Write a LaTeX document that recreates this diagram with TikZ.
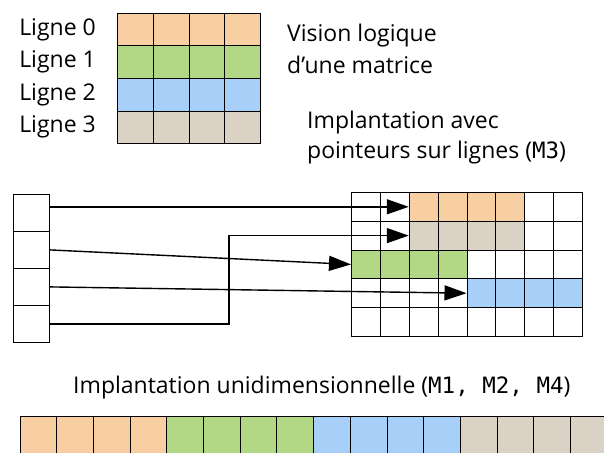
\documentclass[tikz,border=0pt]{standalone}
\usepackage{fontspec}
\setmainfont{Open Sans}
\setmonofont{DejaVu Sans Mono}
\usetikzlibrary{arrows.meta,positioning}

\definecolor{rowA}{HTML}{F8CFA3}
\definecolor{rowB}{HTML}{B2D886}
\definecolor{rowC}{HTML}{A7CFF7}
\definecolor{rowD}{HTML}{DBD2C6}

\begin{document}
\begin{tikzpicture}[
  x=1pt, y=-1pt,
  node distance=21pt,
  txt/.style={inner sep=0pt, align=left, font=\fontsize{23}{32}\selectfont},
  cell/.style={draw, line width=0.8pt, inner sep=0pt, anchor=north west},
  big/.style={cell, minimum width=35.75pt, minimum height=32.5pt},
  ptr/.style={cell, minimum width=36pt, minimum height=37pt},
  small/.style={cell, minimum width=28.875pt, minimum height=28.8pt},
  flat/.style={cell, minimum width=36.7pt, minimum height=37pt},
  link/.style={-{Triangle[length=22pt, width=15pt]}, line width=1.4pt}
]
\useasboundingbox (0,0) rectangle (604,452);
\clip (0,0) rectangle (604,452);

% logical view
\foreach \r/\col in {0/rowA, 1/rowB, 2/rowC, 3/rowD} {
  \foreach \c in {0,...,3}
    \node[big, fill=\col] (m-\r-\c) at (117+35.75*\c, 13+32.5*\r) {};
  \node[txt, left=of m-\r-0] (lbl-\r) {Ligne \r};
}
\node[txt, anchor=west] (logical) at (287,49) {Vision logique\\d’une matrice};
\node[txt, anchor=west, font=\fontsize{23}{30}\selectfont] (rowptr) at (307,138)
  {Implantation avec\\pointeurs sur lignes ({\fontsize{22.5}{30}\ttfamily M3})};

% pointer array
\foreach \i in {0,...,3}
  \node[ptr] (p-\i) at (13, 194+37*\i) {};

% memory grid
\foreach \r in {0,...,4}
  \foreach \c in {0,...,7}
    \node[small] (g-\r-\c) at (351+28.875*\c, 192+28.8*\r) {};
\foreach \c in {2,...,5} \node[small, fill=rowA] at (g-0-\c.north west) {};
\foreach \c in {2,...,5} \node[small, fill=rowD] at (g-1-\c.north west) {};
\foreach \c in {0,...,3} \node[small, fill=rowB] at (g-2-\c.north west) {};
\foreach \c in {4,...,7} \node[small, fill=rowC] at (g-3-\c.north west) {};

\coordinate (bend) at (229,0);
\draw[link] (p-0.east |- g-0-2.west) -- (g-0-2.west);
\draw[link] (p-1.east) -- (g-2-0.west);
\draw[link] (p-2.east) -- (g-3-4.west);
\draw[link] (p-3.east) -- (p-3.east -| bend) -- (bend |- g-1-2.west) -- (g-1-2.west);

% flat layout
\node[txt, anchor=west] (flat) at (73,388)
  {Implantation unidimensionnelle ({\fontsize{22.5}{30}\ttfamily M1, M2, M4})};
\foreach \i/\col in {0/rowA,1/rowA,2/rowA,3/rowA,4/rowB,5/rowB,6/rowB,7/rowB,
  8/rowC,9/rowC,10/rowC,11/rowC,12/rowD,13/rowD,14/rowD,15/rowD}
  \node[flat, fill=\col] (b-\i) at (19.5+36.7*\i, 416) {};
\end{tikzpicture}
\end{document}
